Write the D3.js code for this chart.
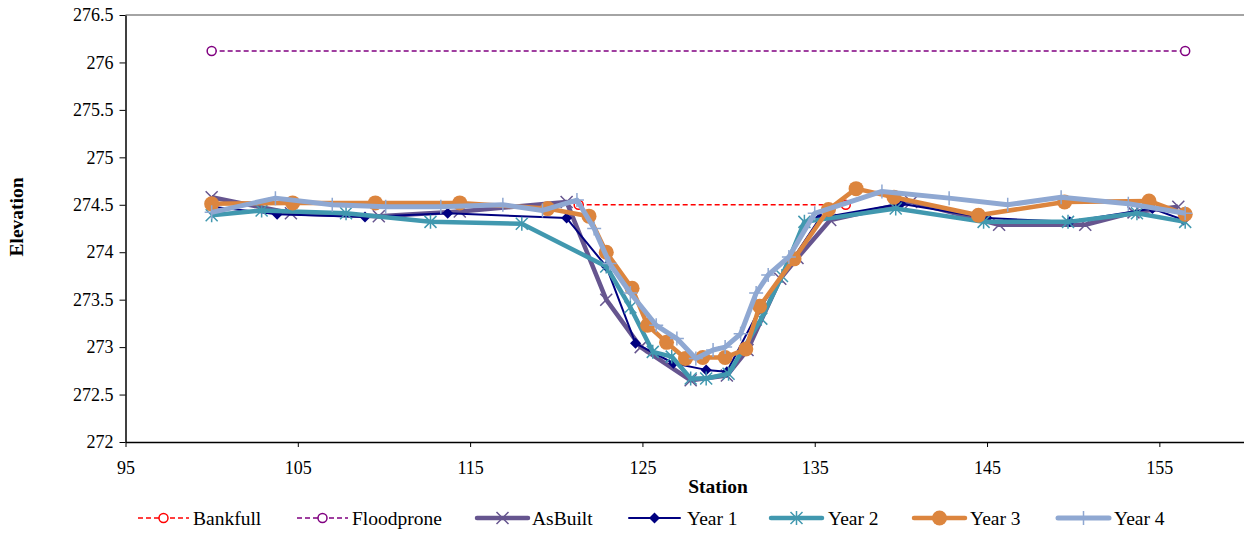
<!DOCTYPE html>
<html>
<head>
<meta charset="utf-8">
<script src="https://cdn.jsdelivr.net/npm/d3@7"></script>
<style>
body { margin: 0; background: #fff; }
text { font-family: "Liberation Serif", "Times New Roman", serif; }
</style>
</head>
<body>
<svg id="chart" width="1244" height="533"></svg>
<script>
// values
var xTicks = [95, 105, 115, 125, 135, 145, 155];
var yTicks = [272, 272.5, 273, 273.5, 274, 274.5, 275, 275.5, 276, 276.5];

var bankfullSt = [121.3, 136.8];
var bankfullEl = [274.5, 274.5];

var floodproneSt = [100, 156.5];
var floodproneEl = [276.12, 276.12];

var asBuiltSt = [100, 104.6, 109.7, 114.4, 120.6, 122.9, 124.9, 127.8, 129.9, 131.1, 133.0, 134.0, 135.9, 140.6, 145.7, 150.7, 153.5, 156.1];
var asBuiltEl = [274.58, 274.41, 274.38, 274.43, 274.53, 273.50, 273.00, 272.65, 272.70, 272.97, 273.72, 273.94, 274.34, 274.53, 274.29, 274.29, 274.42, 274.48];

var year1St = [100, 103.8, 108.9, 113.7, 120.6, 122.9, 124.6, 126.8, 128.7, 129.9, 131.8, 133.8, 135.3, 140.0, 145.0, 149.8, 154.6, 156.4];
var year1El = [274.48, 274.40, 274.37, 274.41, 274.36, 273.85, 273.04, 272.83, 272.76, 272.74, 273.40, 273.95, 274.36, 274.51, 274.36, 274.32, 274.46, 274.34];

var year2St = [100, 102.9, 107.8, 112.7, 118.0, 122.9, 124.3, 125.6, 126.7, 127.8, 128.7, 130.0, 131.9, 133.1, 134.4, 139.7, 144.8, 149.7, 153.7, 156.5];
var year2El = [274.39, 274.44, 274.41, 274.32, 274.30, 273.85, 273.42, 272.95, 272.90, 272.67, 272.67, 272.72, 273.30, 273.75, 274.32, 274.46, 274.32, 274.32, 274.41, 274.32];

var year3St = [100, 104.7, 109.5, 114.4, 119.5, 121.9, 122.9, 124.4, 125.3, 126.4, 127.5, 128.5, 129.8, 131.0, 131.8, 133.8, 135.8, 137.4, 139.6, 144.5, 149.5, 154.4, 156.5];
var year3El = [274.51, 274.52, 274.52, 274.52, 274.46, 274.38, 274.00, 273.62, 273.23, 273.05, 272.88, 272.89, 272.89, 272.98, 273.43, 273.93, 274.45, 274.67, 274.58, 274.39, 274.53, 274.54, 274.40];

var year4St = [100, 103.7, 107.0, 110.1, 113.3, 116.9, 119.2, 121.2, 122.2, 123.1, 124.3, 125.8, 127.0, 128.1, 129.1, 129.8, 130.7, 131.6, 132.3, 133.5, 135.0, 138.9, 142.8, 146.2, 149.3, 153.2, 156.5];
var year4El = [274.42, 274.57, 274.50, 274.48, 274.48, 274.50, 274.44, 274.55, 274.25, 273.88, 273.57, 273.23, 273.09, 272.88, 272.97, 273.00, 273.14, 273.57, 273.76, 273.95, 274.41, 274.64, 274.57, 274.50, 274.58, 274.51, 274.41];

var svg = d3.select('#chart');
var plotLeft = 125.5, plotRight = 1245.5, plotTop = 15, plotBottom = 442;

var x = d3.scaleLinear().domain([95, 160]).range([plotLeft, plotRight]);
var y = d3.scaleLinear().domain([272, 276.5]).range([plotBottom, plotTop]);

// plot area border (only the top edge shows in the reference)
svg.append('line').attr('x1', plotLeft).attr('x2', 1244).attr('y1', plotTop).attr('y2', plotTop)
    .attr('stroke', '#868686').attr('stroke-width', 1.5);

var yAxis = svg.append('g').attr('transform', 'translate(' + plotLeft + ',0)')
    .call(d3.axisLeft(y).tickValues(yTicks).tickSize(6).tickSizeOuter(0).tickPadding(6).tickFormat(d3.format('')));
var xAxis = svg.append('g').attr('transform', 'translate(0,' + plotBottom + ')')
    .call(d3.axisBottom(x).tickValues(xTicks).tickSize(5).tickSizeOuter(0).tickPadding(14));
[yAxis, xAxis].forEach(function(a) {
    a.select('.domain').attr('stroke', '#000').attr('stroke-width', 1.5);
    a.selectAll('.tick line').attr('stroke', '#000');
    a.selectAll('text').attr('font-family', 'Liberation Serif').attr('font-size', 18).attr('fill', '#000');
});

svg.append('text').text('Station').attr('x', 718).attr('y', 493)
    .attr('text-anchor', 'middle').attr('font-weight', 'bold').attr('font-size', 19.5);
svg.append('text').text('Elevation').attr('transform', 'translate(23,217) rotate(-90)')
    .attr('text-anchor', 'middle').attr('font-weight', 'bold').attr('font-size', 19.5);

var series = [
    {name: 'Bankfull', st: bankfullSt, el: bankfullEl, color: '#ff0000', width: 1.5, dash: '5,3', marker: 'ocircle'},
    {name: 'Floodprone', st: floodproneSt, el: floodproneEl, color: '#800080', width: 1.5, dash: '5,3', marker: 'ocircle'},
    {name: 'AsBuilt', st: asBuiltSt, el: asBuiltEl, color: '#66558f', width: 4.5, marker: 'x'},
    {name: 'Year 1', st: year1St, el: year1El, color: '#000080', width: 2, marker: 'diamond'},
    {name: 'Year 2', st: year2St, el: year2El, color: '#4198af', width: 4.5, marker: 'star'},
    {name: 'Year 3', st: year3St, el: year3El, color: '#dc853e', width: 4.5, marker: 'circle'},
    {name: 'Year 4', st: year4St, el: year4El, color: '#8fa8d2', width: 5, marker: 'plus'}
];

function drawMarker(g, type, color, cx, cy) {
    if (type == 'ocircle') {
        g.append('circle').attr('cx', cx).attr('cy', cy).attr('r', 4.5)
            .attr('fill', '#fff').attr('stroke', color).attr('stroke-width', 1.5);
    } else if (type == 'circle') {
        g.append('circle').attr('cx', cx).attr('cy', cy).attr('r', 7.5).attr('fill', color);
    } else if (type == 'diamond') {
        g.append('path').attr('d', 'M' + cx + ',' + (cy - 5.5) + 'L' + (cx + 5.5) + ',' + cy + 'L' + cx + ',' + (cy + 5.5) + 'L' + (cx - 5.5) + ',' + cy + 'Z')
            .attr('fill', color);
    } else {
        var s = 6, p = '';
        if (type == 'x' || type == 'star') p += 'M' + (cx - s) + ',' + (cy - s) + 'L' + (cx + s) + ',' + (cy + s) + 'M' + (cx - s) + ',' + (cy + s) + 'L' + (cx + s) + ',' + (cy - s);
        if (type == 'plus' || type == 'star') p += 'M' + cx + ',' + (cy - s - 1) + 'L' + cx + ',' + (cy + s + 1);
        if (type == 'plus') p += 'M' + (cx - s - 1) + ',' + cy + 'L' + (cx + s + 1) + ',' + cy;
        g.append('path').attr('d', p).attr('stroke', color).attr('stroke-width', 1.5).attr('fill', 'none');
    }
}

var line = d3.line().x(function(d) { return x(d[0]); }).y(function(d) { return y(d[1]); });

series.forEach(function(s) {
    var pts = d3.zip(s.st, s.el);
    var g = svg.append('g');
    g.append('path').datum(pts).attr('d', line).attr('fill', 'none')
        .attr('stroke', s.color).attr('stroke-width', s.width)
        .attr('stroke-dasharray', s.dash || null).attr('stroke-linejoin', 'round');
    pts.forEach(function(p) { drawMarker(g, s.marker, s.color, x(p[0]), y(p[1])); });
});

// legend: line sample start and text start for each entry
var legendX = [138, 297, 477, 629, 771, 914, 1058];
var legendTextX = [193, 352, 532, 687, 828, 970, 1114];
var lg = svg.append('g');
series.forEach(function(s, i) {
    var lx = legendX[i], ly = 518;
    lg.append('line').attr('x1', lx).attr('x2', lx + 51).attr('y1', ly).attr('y2', ly)
        .attr('stroke', s.color).attr('stroke-width', s.width)
        .attr('stroke-dasharray', s.dash || null).attr('stroke-linecap', s.dash ? 'butt' : 'round');
    drawMarker(lg, s.marker, s.color, lx + 25.5, ly);
    lg.append('text').text(s.name).attr('x', legendTextX[i]).attr('y', ly + 6.5).attr('font-size', 19.5);
});
</script>
</body>
</html>
